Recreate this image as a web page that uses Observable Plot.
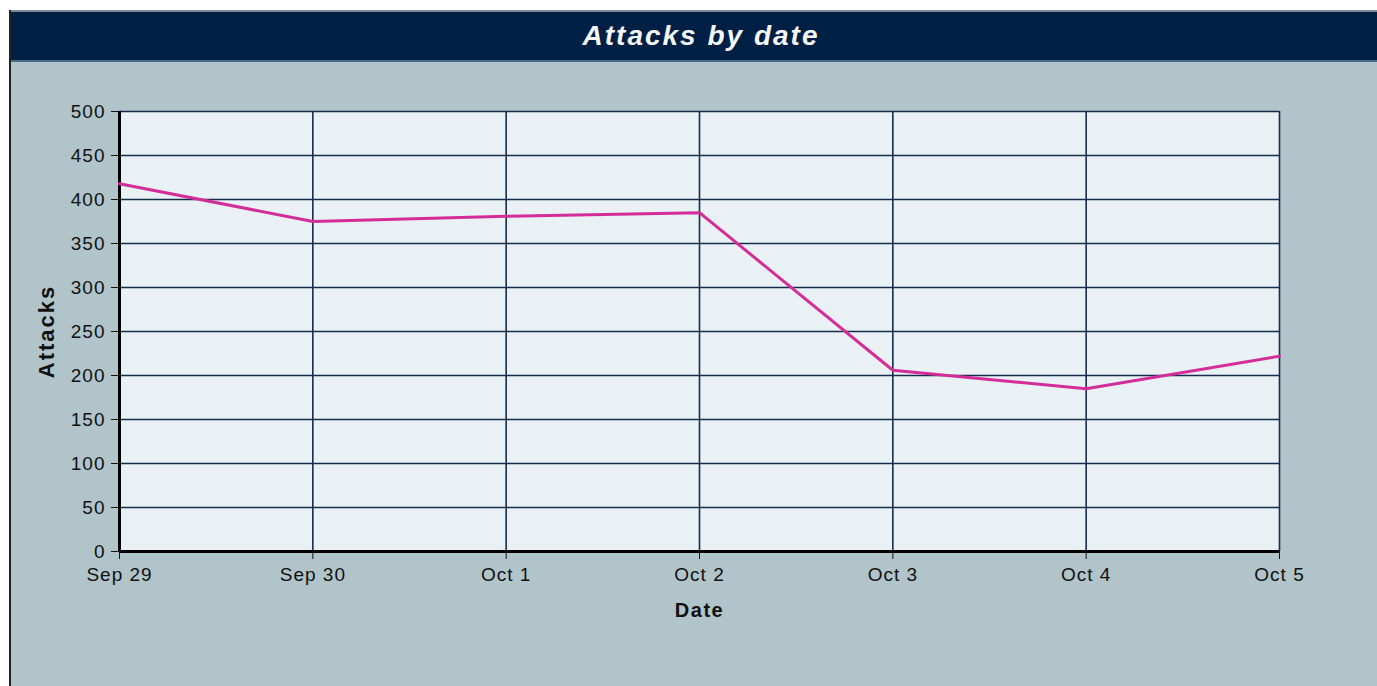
<!DOCTYPE html>
<html>
<head>
<meta charset="utf-8">
<script src="https://cdn.jsdelivr.net/npm/d3@7"></script>
<script src="https://cdn.jsdelivr.net/npm/@observablehq/plot@0.6"></script>
<style>
  html, body { margin: 0; padding: 0; background: #ffffff; }
  #frame {
    position: absolute; left: 9px; top: 10px; width: 1368px; height: 676px;
    background: #b0c4c9; border-left: 2px solid #222; box-sizing: border-box;
    overflow: hidden;
  }
  #title {
    height: 52px; background: #001f44; color: #f4f6f8;
    border-top: 2px solid #7f8a95; border-bottom: 2px solid #4b6a85; box-sizing: border-box;
    font-family: "Liberation Sans", Arial, sans-serif; font-style: italic; font-weight: bold;
    font-size: 28px; letter-spacing: 2px; text-align: center; line-height: 48px; padding-left: 14px;
  }
  #chart svg { display: block; }
  .ylabel-title text { letter-spacing: 2px; }
  .xlabel-title text { letter-spacing: 1.5px; }
</style>
</head>
<body>
<div id="frame">
  <div id="title">Attacks by date</div>
  <div id="chart"></div>
</div>
<script>
const dates = ["2023-09-29", "2023-09-30", "2023-10-01", "2023-10-02", "2023-10-03", "2023-10-04", "2023-10-05"];
const attacks = [418, 375, 381, 385, 206, 185, 222];
const yTicks = [0, 50, 100, 150, 200, 250, 300, 350, 400, 450, 500];

const data = dates.map((d, i) => ({date: new Date(d + "T00:00:00Z"), attacks: attacks[i]}));
const xTicks = data.map(d => d.date);
const fmt = d3.utcFormat("%b %-d");

const chart = Plot.plot({
  width: 1366,
  height: 624,
  marginLeft: 108,
  marginRight: 98,
  marginTop: 49,
  marginBottom: 135,
  style: {fontFamily: "'Liberation Sans', Arial, sans-serif", fontSize: "19px", color: "#111", background: "transparent", letterSpacing: "1px"},
  x: {type: "utc", domain: [xTicks[0], xTicks[xTicks.length - 1]], ticks: xTicks, tickFormat: fmt},
  y: {domain: [0, 500], ticks: yTicks},
  marks: [
    Plot.frame({fill: "#e9f1f5", stroke: null}),
    Plot.gridX(xTicks, {stroke: "#152c4c", strokeOpacity: 1, strokeWidth: 1.6}),
    Plot.gridY(yTicks, {stroke: "#152c4c", strokeOpacity: 1, strokeWidth: 1.6}),
    Plot.axisY({ticks: yTicks, tickSize: 8, tickPadding: 6, label: null, fontSize: 19}),
    Plot.axisX({ticks: xTicks, tickSize: 8, tickPadding: 8, tickFormat: fmt, label: null, fontSize: 19}),
    Plot.ruleX([xTicks[0]], {stroke: "#000", strokeWidth: 3}),
    Plot.ruleY([0], {stroke: "#000", strokeWidth: 3}),
    Plot.line(data, {x: "date", y: "attacks", stroke: "#d42d9a", strokeWidth: 3}),
    Plot.text(["Attacks"], {frameAnchor: "left", textAnchor: "middle", lineAnchor: "middle", dx: -73, rotate: -90, fontWeight: "bold", fontSize: 22, fill: "#111", className: "ylabel-title"}),
    Plot.text(["Date"], {frameAnchor: "bottom", dy: 65, fontWeight: "bold", fontSize: 20, fill: "#111", className: "xlabel-title"})
  ]
});
document.getElementById("chart").appendChild(chart);
</script>
</body>
</html>
